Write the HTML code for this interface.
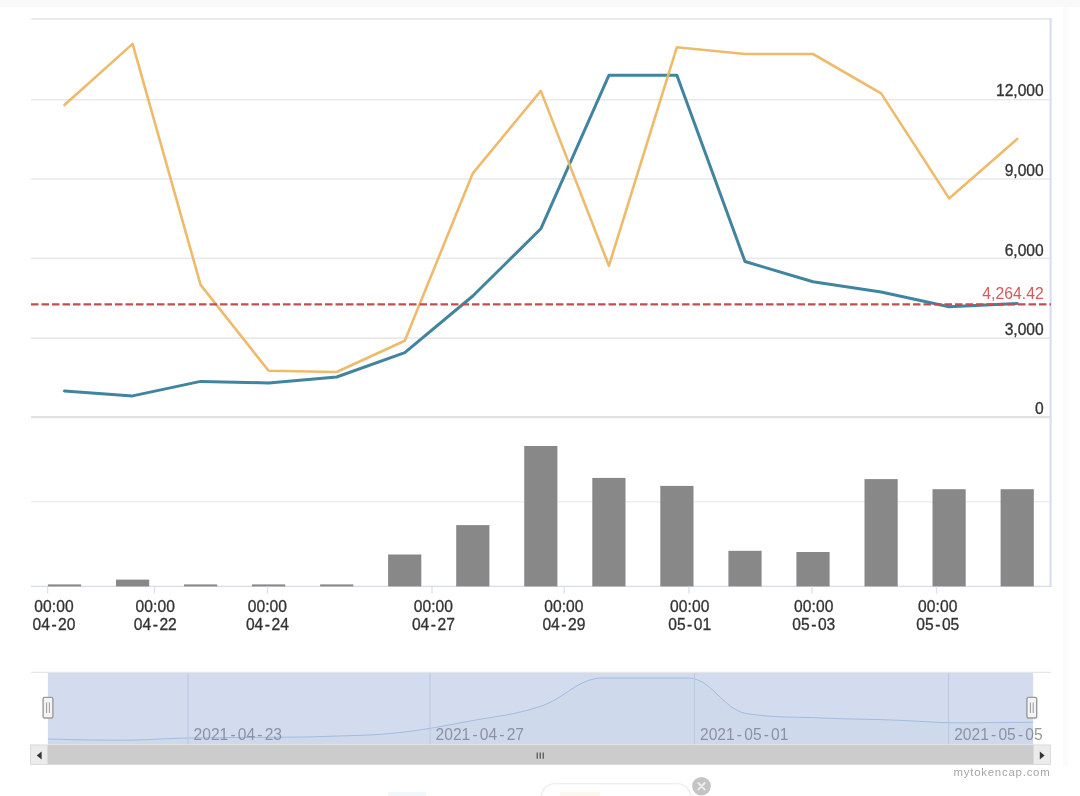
<!DOCTYPE html>
<html lang="en">
<head>
<meta charset="utf-8">
<title>chart</title>
<style>
html,body{margin:0;padding:0;background:#fff;}
body{width:1080px;height:796px;overflow:hidden;position:relative;}
svg{position:absolute;left:0;top:0;display:block;filter:blur(0.45px);}
text{font-family:"Liberation Sans","DejaVu Sans",sans-serif;}
.ax{font-size:15.6px;fill:#333333;stroke:#333333;stroke-width:0.3px;}
.nav{font-size:16px;fill:#8e97ad;}
</style>
</head>
<body>
<svg width="1080" height="796" viewBox="0 0 1080 796">
<rect x="0" y="0" width="1080" height="796" fill="#ffffff"/>
<rect x="0" y="0" width="1080" height="7" fill="#f9f9f9"/>
<rect x="1063" y="7" width="5" height="760" fill="#fcfcfc"/>

<g stroke="#e9e9e9" stroke-width="1.6" fill="none">
<line x1="31" y1="18.9" x2="1051" y2="18.9"/>
<line x1="31" y1="99.7" x2="1051" y2="99.7"/>
<line x1="31" y1="179" x2="1051" y2="179"/>
<line x1="31" y1="258.4" x2="1051" y2="258.4"/>
<line x1="31" y1="338.1" x2="1051" y2="338.1"/>
</g>
<line x1="31" y1="417.2" x2="1051" y2="417.2" stroke="#e2e2e2" stroke-width="2.2"/>
<line x1="31" y1="501.8" x2="1051" y2="501.8" stroke="#efefef" stroke-width="1.6"/>
<line x1="1050.6" y1="18" x2="1050.6" y2="587" stroke="#d9def2" stroke-width="2.2"/>
<line x1="31" y1="586.4" x2="1051" y2="586.4" stroke="#d6dcec" stroke-width="1.4"/>
<g fill="#888888">
<rect x="47.9" y="584.4" width="33.2" height="2.0"/>
<rect x="116.0" y="579.6" width="33.2" height="6.8"/>
<rect x="184.0" y="584.4" width="33.2" height="2.0"/>
<rect x="252.0" y="584.4" width="33.2" height="2.0"/>
<rect x="320.1" y="584.4" width="33.2" height="2.0"/>
<rect x="388.1" y="554.5" width="33.2" height="31.9"/>
<rect x="456.2" y="525.1" width="33.2" height="61.3"/>
<rect x="524.2" y="446.0" width="33.2" height="140.4"/>
<rect x="592.3" y="477.9" width="33.2" height="108.5"/>
<rect x="660.3" y="485.9" width="33.2" height="100.5"/>
<rect x="728.4" y="550.8" width="33.2" height="35.6"/>
<rect x="796.4" y="552.0" width="33.2" height="34.4"/>
<rect x="864.5" y="479.1" width="33.2" height="107.3"/>
<rect x="932.5" y="489.2" width="33.2" height="97.2"/>
<rect x="1000.6" y="489.2" width="33.2" height="97.2"/>
</g>
<g stroke="#d9e0ee" stroke-width="1.3">
<line x1="47.6" y1="586.4" x2="47.6" y2="593.5"/>
<line x1="154.4" y1="586.4" x2="154.4" y2="593.5"/>
<line x1="267.5" y1="586.4" x2="267.5" y2="593.5"/>
<line x1="432" y1="586.4" x2="432" y2="593.5"/>
<line x1="564.2" y1="586.4" x2="564.2" y2="593.5"/>
<line x1="688.9" y1="586.4" x2="688.9" y2="593.5"/>
<line x1="811.9" y1="586.4" x2="811.9" y2="593.5"/>
<line x1="936.6" y1="586.4" x2="936.6" y2="593.5"/>
</g>
<polyline points="64.5,390.9 132.6,395.9 200.6,381.4 268.6,382.9 336.7,377.0 404.8,352.7 472.8,296.0 540.8,228.8 608.9,75.3 676.9,75.3 745.0,261.5 813.0,281.8 881.1,292.0 949.1,306.7 1017.2,303.5" fill="none" stroke="#41849f" stroke-width="3" stroke-linejoin="round" stroke-linecap="round"/>
<polyline points="64.5,105.0 132.6,43.9 200.6,284.9 268.6,370.8 336.7,372.0 404.8,340.7 472.8,173.3 540.8,90.9 608.9,265.8 676.9,47.2 745.0,54.0 813.0,54.0 881.1,93.4 949.1,198.4 1017.2,138.9" fill="none" stroke="#edb764" stroke-width="2.6" stroke-opacity="0.95" stroke-linejoin="round" stroke-linecap="round"/>
<line x1="31" y1="304.3" x2="1051" y2="304.3" stroke="#c24e52" stroke-width="2.3" stroke-dasharray="7.5 3"/>
<g class="ax" text-anchor="end">
<text x="1043.7" y="96.0">12,000</text>
<text x="1043.7" y="175.6">9,000</text>
<text x="1043.7" y="256.2">6,000</text>
<text x="1043.7" y="335.0">3,000</text>
<text x="1043.7" y="414.3">0</text>
</g>
<text x="1043.7" y="299" text-anchor="end" font-size="15.7" fill="#d4595b" letter-spacing="0.05">4,264.42</text>
<g class="ax" text-anchor="middle">
<text x="54" y="611.9" letter-spacing="0.1">00:00</text>
<text x="54" y="629.9">04<tspan dx="1.5">-</tspan><tspan dx="1.5">20</tspan></text>
<text x="155.3" y="611.9" letter-spacing="0.1">00:00</text>
<text x="155.3" y="629.9">04<tspan dx="1.5">-</tspan><tspan dx="1.5">22</tspan></text>
<text x="267.4" y="611.9" letter-spacing="0.1">00:00</text>
<text x="267.4" y="629.9">04<tspan dx="1.5">-</tspan><tspan dx="1.5">24</tspan></text>
<text x="433.4" y="611.9" letter-spacing="0.1">00:00</text>
<text x="433.4" y="629.9">04<tspan dx="1.5">-</tspan><tspan dx="1.5">27</tspan></text>
<text x="563.9" y="611.9" letter-spacing="0.1">00:00</text>
<text x="563.9" y="629.9">04<tspan dx="1.5">-</tspan><tspan dx="1.5">29</tspan></text>
<text x="689.7" y="611.9" letter-spacing="0.1">00:00</text>
<text x="689.7" y="629.9">05<tspan dx="1.5">-</tspan><tspan dx="1.5">01</tspan></text>
<text x="813.8" y="611.9" letter-spacing="0.1">00:00</text>
<text x="813.8" y="629.9">05<tspan dx="1.5">-</tspan><tspan dx="1.5">03</tspan></text>
<text x="937.8" y="611.9" letter-spacing="0.1">00:00</text>
<text x="937.8" y="629.9">05<tspan dx="1.5">-</tspan><tspan dx="1.5">05</tspan></text>
</g>
<line x1="31" y1="672.4" x2="1051" y2="672.4" stroke="#e6e6e6" stroke-width="1.4"/>
<path d="M47.9,739.0 C47.9,739.0 90.0,740.2 118.0,740.2 C146.0,740.2 160.0,738.6 188.0,738.0 C216.4,737.4 230.6,737.7 259.0,737.4 C287.0,737.1 301.0,737.3 329.0,736.3 C357.3,735.3 371.4,735.6 399.7,732.5 C427.8,729.4 441.9,726.2 470.0,721.0 C498.0,715.8 512.0,715.6 540.0,706.5 C565.2,698.4 577.8,678.0 603.0,678.0 C637.0,678.0 654.0,678.0 688.0,678.0 C711.2,678.0 722.8,709.0 746.0,713.5 C776.4,718.0 791.6,716.6 822.0,718.0 C850.0,719.2 864.0,719.0 892.0,720.0 C920.0,721.0 934.0,722.8 962.0,722.8 C990.4,722.8 1033.0,722.2 1033.0,722.2 L1033,744.4 L47.9,744.4 Z" fill="#3f8aaa" fill-opacity="0.03" stroke="none"/>
<path d="M47.9,739.0 C47.9,739.0 90.0,740.2 118.0,740.2 C146.0,740.2 160.0,738.6 188.0,738.0 C216.4,737.4 230.6,737.7 259.0,737.4 C287.0,737.1 301.0,737.3 329.0,736.3 C357.3,735.3 371.4,735.6 399.7,732.5 C427.8,729.4 441.9,726.2 470.0,721.0 C498.0,715.8 512.0,715.6 540.0,706.5 C565.2,698.4 577.8,678.0 603.0,678.0 C637.0,678.0 654.0,678.0 688.0,678.0 C711.2,678.0 722.8,709.0 746.0,713.5 C776.4,718.0 791.6,716.6 822.0,718.0 C850.0,719.2 864.0,719.0 892.0,720.0 C920.0,721.0 934.0,722.8 962.0,722.8 C990.4,722.8 1033.0,722.2 1033.0,722.2" fill="none" stroke="#8db6e0" stroke-width="1" stroke-opacity="0.6"/>
<g stroke="#dfe2ea" stroke-width="1">
<line x1="188" y1="673" x2="188" y2="744.4"/>
<line x1="430" y1="673" x2="430" y2="744.4"/>
<line x1="694.4" y1="673" x2="694.4" y2="744.4"/>
<line x1="948.6" y1="673" x2="948.6" y2="744.4"/>
</g>
<g font-size="15.6" fill="#999999">
<text x="193.6" y="739.9">2021<tspan dx="2.15">-</tspan><tspan dx="2.15">04</tspan><tspan dx="2.15">-</tspan><tspan dx="2.15">23</tspan></text>
<text x="435.6" y="739.9">2021<tspan dx="2.15">-</tspan><tspan dx="2.15">04</tspan><tspan dx="2.15">-</tspan><tspan dx="2.15">27</tspan></text>
<text x="700.0" y="739.9">2021<tspan dx="2.15">-</tspan><tspan dx="2.15">05</tspan><tspan dx="2.15">-</tspan><tspan dx="2.15">01</tspan></text>
<text x="954.2" y="739.9">2021<tspan dx="2.15">-</tspan><tspan dx="2.15">05</tspan><tspan dx="2.15">-</tspan><tspan dx="2.15">05</tspan></text>
</g>
<rect x="47.9" y="673" width="985.2" height="71.4" fill="#6685c2" fill-opacity="0.285"/>
<rect x="43.1" y="697.4" width="9.8" height="20.6" rx="1.5" fill="#f4f4f4" stroke="#9a9a9a" stroke-width="1.4"/>
<path d="M46.6,702.5V713 M49.4,702.5V713" stroke="#9a9a9a" stroke-width="1" fill="none"/>
<rect x="1026.9" y="697.4" width="9.8" height="20.6" rx="1.5" fill="#f4f4f4" stroke="#9a9a9a" stroke-width="1.4"/>
<path d="M1030.4,702.5V713 M1033.2,702.5V713" stroke="#9a9a9a" stroke-width="1" fill="none"/>
<rect x="30" y="744.6" width="1021" height="20" fill="#f2f2f2"/>
<rect x="47.5" y="744.6" width="986" height="20" fill="#cccccc"/>
<rect x="30.4" y="745" width="17" height="19.4" fill="#ebebeb" stroke="#d8d8d8" stroke-width="0.8"/>
<rect x="1033.4" y="745" width="17" height="19.4" fill="#ebebeb" stroke="#d8d8d8" stroke-width="0.8"/>
<path d="M36.8,755.6 L41.6,751.6 V759.6 Z" fill="#333"/>
<path d="M1044.6,755.6 L1039.8,751.6 V759.6 Z" fill="#333"/>
<path d="M537.2,752.6V758.8 M540.2,752.6V758.8 M543.2,752.6V758.8" stroke="#444" stroke-width="1.1" fill="none"/>
<text x="1050.5" y="776.2" text-anchor="end" font-size="11.4" fill="#a6a6a6" letter-spacing="0.78">mytokencap.com</text>
<rect x="541" y="783.6" width="150" height="30" rx="14" fill="#ffffff" stroke="#eeeeee" stroke-width="1.4"/>
<rect x="560" y="792" width="40" height="6" fill="#fdf6e6" opacity="0.8"/>
<rect x="388" y="792" width="38" height="6" fill="#eef7fc" opacity="0.9"/>
<circle cx="701.5" cy="786.2" r="9.3" fill="#c4c4c4"/>
<path d="M698.3,783 L704.7,789.4 M704.7,783 L698.3,789.4" stroke="#eeeeee" stroke-width="1.9" stroke-linecap="round"/>
</svg>
</body>
</html>
